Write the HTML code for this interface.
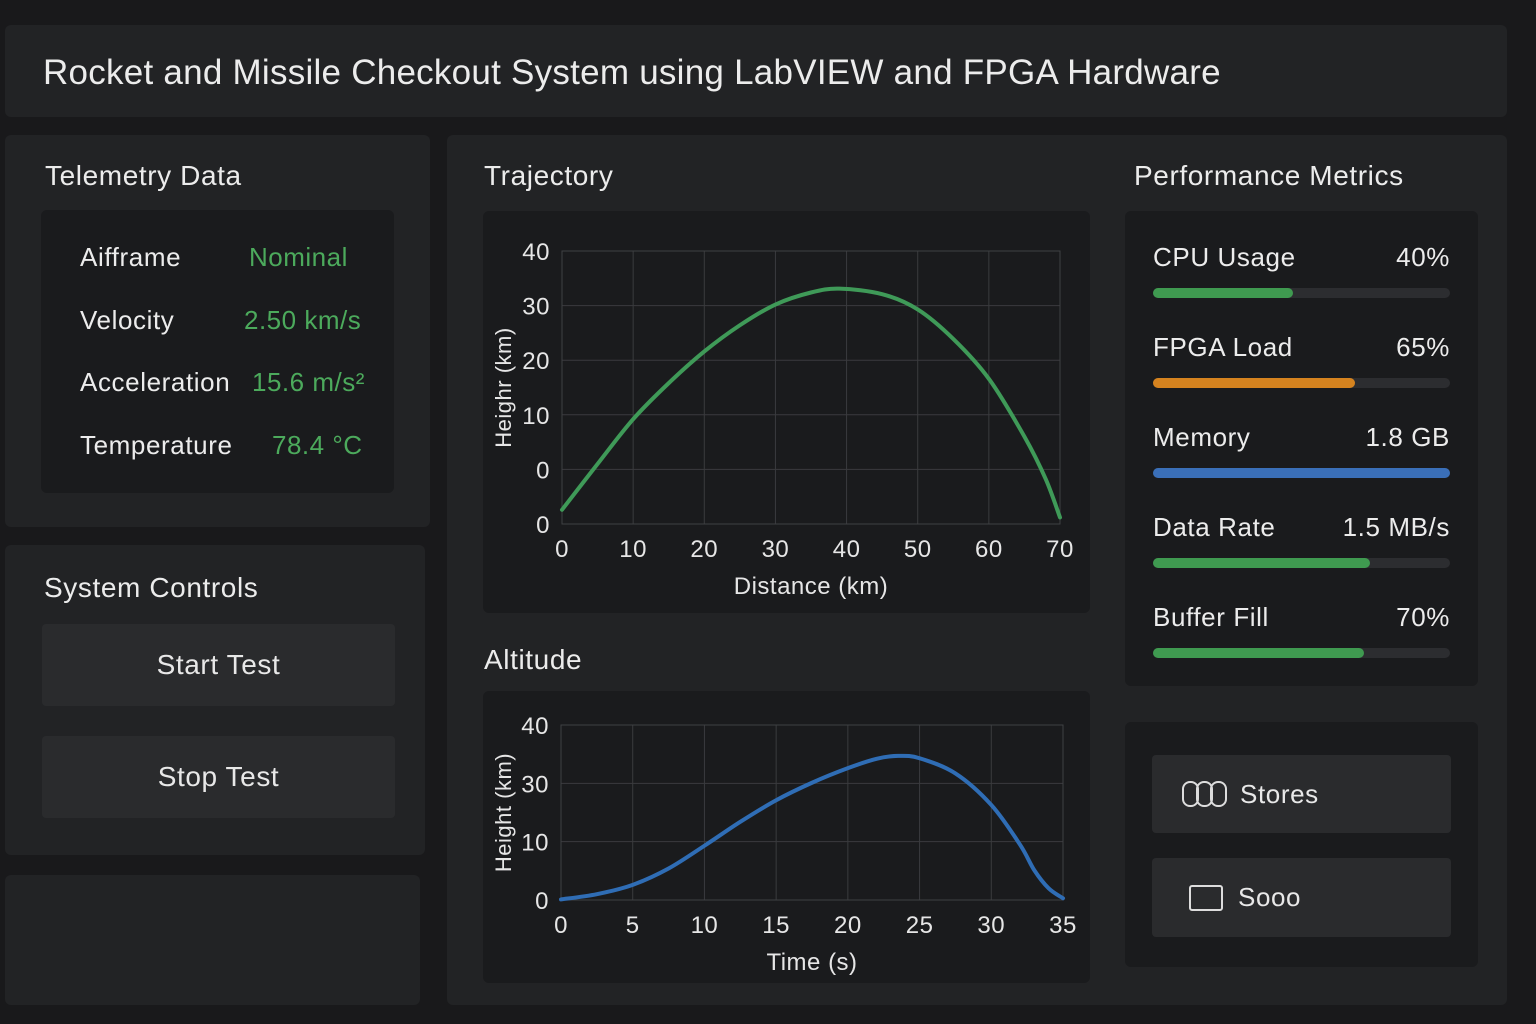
<!DOCTYPE html>
<html><head><meta charset="utf-8"><style>
*{box-sizing:border-box;margin:0;padding:0}
body{width:1536px;height:1024px;background:#19191b;font-family:"Liberation Sans",sans-serif;color:#e8e8e8;position:relative;overflow:hidden}
.p{position:absolute;background:#222325;border-radius:6px}
.d{position:absolute;background:#1a1b1d;border-radius:6px}
.t{position:absolute;font-size:28px;color:#ececec;letter-spacing:0.6px}
.lab{position:absolute;font-size:26px;color:#ececec;letter-spacing:0.6px}
.val{position:absolute;font-size:26px;color:#4caa5c;letter-spacing:0.5px}
.btn{position:absolute;background:#2a2b2d;border-radius:4px;font-size:28px;color:#e8e8e8;display:flex;align-items:center;justify-content:center;letter-spacing:0.6px}
.track{position:absolute;height:10px;background:#2c2d30;border-radius:5px;width:297px}
.fill{height:10px;border-radius:5px}
svg text{font-family:"Liberation Sans",sans-serif;fill:#e6e6e6;letter-spacing:0.5px}
</style></head><body>
<div class="p" style="left:5px;top:25px;width:1502px;height:92px"></div>
<div class="t" style="left:43px;top:53px;font-size:35px;letter-spacing:0.25px">Rocket and Missile Checkout System using LabVIEW and FPGA Hardware</div>

<div class="p" style="left:5px;top:135px;width:425px;height:392px"></div>
<div class="t" style="left:45px;top:160px">Telemetry Data</div>
<div class="d" style="left:41px;top:210px;width:353px;height:283px"></div>
<div class="lab" style="left:80px;top:242px">Aifframe</div>
<div class="val" style="left:249px;top:242px">Nominal</div>
<div class="lab" style="left:80px;top:305px">Velocity</div>
<div class="val" style="left:244px;top:305px">2.50 km/s</div>
<div class="lab" style="left:80px;top:367px">Acceleration</div>
<div class="val" style="left:252px;top:367px">15.6 m/s²</div>
<div class="lab" style="left:80px;top:430px">Temperature</div>
<div class="val" style="left:272px;top:430px">78.4 °C</div>

<div class="p" style="left:5px;top:545px;width:420px;height:310px"></div>
<div class="t" style="left:44px;top:572px">System Controls</div>
<div class="btn" style="left:42px;top:624px;width:353px;height:82px">Start Test</div>
<div class="btn" style="left:42px;top:736px;width:353px;height:82px">Stop Test</div>
<div class="p" style="left:5px;top:875px;width:415px;height:130px"></div>

<div class="p" style="left:447px;top:135px;width:1060px;height:870px"></div>
<div class="t" style="left:484px;top:160px">Trajectory</div>
<div class="d" style="left:483px;top:211px;width:607px;height:402px"></div>
<div class="t" style="left:484px;top:644px">Altitude</div>
<div class="d" style="left:483px;top:691px;width:607px;height:292px"></div>
<svg id="chart" width="1536" height="1024" style="position:absolute;left:0;top:0"></svg>

<div class="t" style="left:1134px;top:160px">Performance Metrics</div>
<div class="d" style="left:1125px;top:211px;width:353px;height:475px"></div>
<div id="metrics"></div>
<div class="d" style="left:1125px;top:722px;width:353px;height:245px"></div>
<div class="btn" style="left:1152px;top:755px;width:299px;height:78px;justify-content:flex-start;padding-left:30px;font-size:26px">
<svg width="46" height="28" style="margin-right:12px"><rect x="1" y="2" width="15" height="24" rx="7" fill="none" stroke="#ddd" stroke-width="2"/><rect x="15" y="2" width="15" height="24" rx="7" fill="none" stroke="#ddd" stroke-width="2"/><rect x="29" y="2" width="15" height="24" rx="7" fill="none" stroke="#ddd" stroke-width="2"/></svg>Stores</div>
<div class="btn" style="left:1152px;top:858px;width:299px;height:79px;justify-content:flex-start;padding-left:37px;font-size:26px">
<svg width="34" height="26" style="margin-right:15px"><rect x="1" y="1" width="32" height="24" rx="2" fill="none" stroke="#ddd" stroke-width="2"/></svg>Sooo</div>

<script>
const metricNames=["CPU Usage","FPGA Load","Memory","Data Rate","Buffer Fill"];
const metricLabels=["40%","65%","1.8 GB","1.5 MB/s","70%"];
const metricFill=[0.47,0.68,1.0,0.73,0.71];
const metricColors=["#3f9a50","#d5831f","#3a6fb8","#3f9a50","#3f9a50"];

const trajX=[0,5,10,15,20,25,30,35,39,45,50,55,60,65,68,70];
const trajY=[-7.4,1.0,9.2,15.8,21.6,26.4,30.2,32.4,33.1,32.1,29.3,23.9,16.6,6.0,-1.8,-8.8];
const trajXTicks=[0,10,20,30,40,50,60,70];
const trajYTickVals=[-10,0,10,20,30,40];
const trajYTickLabels=["0","0","10","20","30","40"];

const altX=[0,2.5,5,7.5,10,12.5,15,17.5,20,22,23.5,25,27.5,30,32,33,34,35];
const altY=[0.1,1.0,2.6,5.4,9.3,13.4,17.1,20.1,22.6,24.2,24.7,24.3,21.7,16.3,9.5,5.1,2.0,0.3];
const altXTicks=[0,5,10,15,20,25,30,35];
const altYTickVals=[0,10,20,30];
const altYTickLabels=["0","10","30","40"];

const NS="http://www.w3.org/2000/svg";
const svg=document.getElementById('chart');
function el(tag,attrs,parent){const e=document.createElementNS(NS,tag);for(const k in attrs)e.setAttribute(k,attrs[k]);(parent||svg).appendChild(e);return e;}

function drawChart(o){
  const sx=v=>o.x0+(v-o.xmin)/(o.xmax-o.xmin)*(o.x1-o.x0);
  const sy=v=>o.y0-(v-o.ymin)/(o.ymax-o.ymin)*(o.y0-o.y1);
  o.xt.forEach(v=>{
    const l=el('line',{x1:sx(v),x2:sx(v),y1:o.y1,y2:o.y0,stroke:'#3a3b3e','stroke-width':1});
    
    
    const t=el('text',{x:sx(v),y:o.y0+33,'text-anchor':'middle','font-size':24});
    t.textContent=v;
    
    
  });
  o.yv.forEach((v,i)=>{
    const l=el('line',{x1:o.x0,x2:o.x1,y1:sy(v),y2:sy(v),stroke:'#3a3b3e','stroke-width':1});
    
    
    const t=el('text',{x:o.x0-12,y:sy(v)+9,'text-anchor':'end','font-size':24});
    t.textContent=o.yl[i];
    
    
  });
  const b=el('rect',{x:o.x0,y:o.y1,width:o.x1-o.x0,height:o.y0-o.y1,fill:'none',stroke:'#3f4043'});
  
  
  const pts=o.xs.map((x,i)=>[sx(x),sy(o.ys[i])]);
  let d='M'+pts[0][0]+','+pts[0][1];
  for(let i=0;i<pts.length-1;i++){
    const p0=pts[Math.max(0,i-1)],p1=pts[i],p2=pts[i+1],p3=pts[Math.min(pts.length-1,i+2)];
    const c1=[p1[0]+(p2[0]-p0[0])/6,p1[1]+(p2[1]-p0[1])/6],c2=[p2[0]-(p3[0]-p1[0])/6,p2[1]-(p3[1]-p1[1])/6];
    d+=' C'+c1+' '+c2+' '+p2;
  }
  const path=el('path',{d:d,fill:'none',stroke:o.color,'stroke-width':4,'stroke-linecap':'round'});
  
  
  const xt=el('text',{x:(o.x0+o.x1)/2,y:o.y0+70,'text-anchor':'middle','font-size':24});
  xt.textContent=o.xlabel;
  
  
  const cy=(o.y0+o.y1)/2;
  const yt=el('text',{x:o.ytx,y:cy,'text-anchor':'middle','font-size':22,transform:'rotate(-90 '+o.ytx+' '+cy+')'});
  yt.textContent=o.ylabel;
  
  
}
drawChart({name:'trajectory',x0:562,x1:1060,y0:524,y1:251,xmin:0,xmax:70,ymin:-10,ymax:40,xs:trajX,ys:trajY,xt:trajXTicks,yv:trajYTickVals,yl:trajYTickLabels,color:'#3f9a58',xlabel:'Distance (km)',ylabel:'Heighr (km)',ytx:511});
drawChart({name:'altitude',x0:561,x1:1063,y0:900,y1:725,xmin:0,xmax:35,ymin:0,ymax:30,xs:altX,ys:altY,xt:altXTicks,yv:altYTickVals,yl:altYTickLabels,color:'#2f6db5',xlabel:'Time (s)',ylabel:'Height (km)',ytx:511});

const m=document.getElementById('metrics');
metricNames.forEach((n,i)=>{
  const top=242+i*90;
  const a=document.createElement('div');a.className='lab';a.style.cssText='left:1153px;top:'+top+'px';a.textContent=n;
  
  
  m.appendChild(a);
  const v=document.createElement('div');v.className='lab';v.style.cssText='right:86px;top:'+top+'px';v.textContent=metricLabels[i];
  
  
  m.appendChild(v);
  const tr=document.createElement('div');tr.className='track';tr.style.cssText='left:1153px;top:'+(top+46)+'px';
  
  
  const f=document.createElement('div');f.className='fill';f.style.width=(metricFill[i]*100)+'%';f.style.background=metricColors[i];
  
  
  tr.appendChild(f);m.appendChild(tr);
});
</script>
</body></html>
